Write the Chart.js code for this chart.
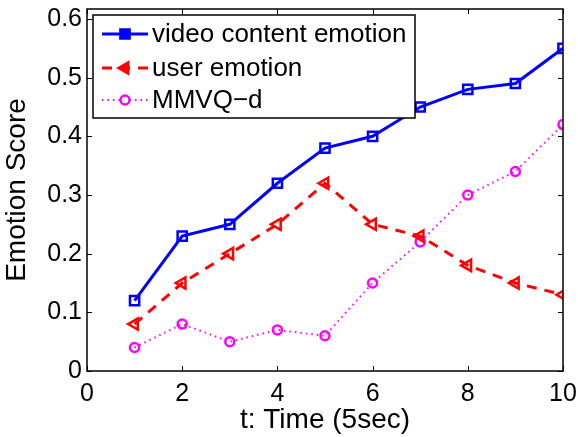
<!DOCTYPE html>
<html>
<head>
<meta charset="utf-8">
<script src="https://cdn.jsdelivr.net/npm/chart.js@4.4.1/dist/chart.umd.min.js"></script>
<style>
  html, body { margin: 0; padding: 0; background: #fff; }
  #wrap { width: 578px; height: 437px; }
</style>
</head>
<body>
<div id="wrap"><canvas id="lineChart" width="578" height="437"></canvas></div>
<script>
// data
const timeSteps = [1, 2, 3, 4, 5, 6, 7, 8, 9, 10];
const videoEmotion = [0.12, 0.23, 0.25, 0.32, 0.38, 0.40, 0.45, 0.48, 0.49, 0.55];
const userEmotion = [0.08, 0.15, 0.20, 0.25, 0.32, 0.25, 0.23, 0.18, 0.15, 0.13];
const mmvqD = [0.04, 0.08, 0.05, 0.07, 0.06, 0.15, 0.22, 0.30, 0.34, 0.42];
const seriesNames = ["video content emotion", "user emotion", "MMVQ\u2212d"];
const xTicks = [0, 2, 4, 6, 8, 10];
const yTicks = [0, 0.1, 0.2, 0.3, 0.4, 0.5, 0.6];

const FONT = "'Liberation Sans', Arial, sans-serif";
const toPoints = (ys) => timeSteps.map((t, i) => ({ x: t, y: ys[i] }));

// box around the axes + inward ticks on all four sides (matlab look)
const framePlugin = {
  id: "frame",
  afterDatasetsDraw(chart) {
    const { ctx, chartArea: a, scales: { x, y } } = chart;
    ctx.save();
    ctx.strokeStyle = "#000";
    ctx.lineWidth = 1;
    ctx.beginPath();
    xTicks.forEach(v => {
      const px = Math.round(x.getPixelForValue(v)) + 0.5;
      ctx.moveTo(px, a.bottom); ctx.lineTo(px, a.bottom - 5);
      ctx.moveTo(px, a.top); ctx.lineTo(px, a.top + 5);
    });
    yTicks.forEach(v => {
      const py = Math.round(y.getPixelForValue(v)) + 0.5;
      ctx.moveTo(a.left, py); ctx.lineTo(a.left + 5, py);
      ctx.moveTo(a.right, py); ctx.lineTo(a.right - 5, py);
    });
    ctx.stroke();
    ctx.lineWidth = 1.5;
    ctx.strokeRect(a.left, a.top, a.right - a.left, a.bottom - a.top);
    ctx.restore();
  }
};

// legend drawn inside the plot, top left, with line + marker samples
const boxLegend = {
  id: "boxLegend",
  afterDraw(chart) {
    const { ctx } = chart;
    const bx = 93, by = 15, bw = 322, bh = 103;
    ctx.save();
    ctx.fillStyle = "#fff";
    ctx.fillRect(bx, by, bw, bh);
    ctx.strokeStyle = "#000";
    ctx.lineWidth = 1.5;
    ctx.strokeRect(bx, by, bw, bh);
    const rows = [34, 68, 100];
    chart.data.datasets.forEach((ds, i) => {
      const cy = rows[i];
      ctx.strokeStyle = ds.borderColor;
      ctx.lineWidth = ds.borderWidth;
      ctx.setLineDash(ds.borderDash || []);
      ctx.beginPath();
      ctx.moveTo(102, cy); ctx.lineTo(148, cy);
      ctx.stroke();
      ctx.setLineDash([]);
      ctx.lineWidth = ds.pointBorderWidth;
      // squares/triangles look solid in the legend, the circle stays hollow
      ctx.fillStyle = ds.pointStyle === "circle" ? "#fff" : ds.pointBorderColor;
      ctx.strokeStyle = ds.pointBorderColor;
      Chart.helpers.drawPoint(ctx, {
        pointStyle: ds.pointStyle, rotation: ds.pointRotation || 0,
        radius: ds.pointRadius, borderWidth: ds.pointBorderWidth
      }, 125, cy);
      ctx.fillStyle = "#000";
      ctx.font = "26px " + FONT;
      ctx.textBaseline = "middle";
      ctx.fillText(ds.label, 152, cy + 1);
    });
    ctx.restore();
  }
};

new Chart(document.getElementById("lineChart").getContext("2d"), {
  type: "line",
  data: {
    datasets: [{
      label: seriesNames[0],
      data: toPoints(videoEmotion),
      borderColor: "#0000ff",
      borderWidth: 3,
      pointStyle: "rect",
      pointRadius: 6.5,
      pointBorderWidth: 2.5,
      pointBorderColor: "#0000ff",
      pointBackgroundColor: "rgba(255,255,255,0)",
      tension: 0
    }, {
      label: seriesNames[1],
      data: toPoints(userEmotion),
      borderColor: "#ff0000",
      borderWidth: 3,
      borderDash: [10, 8],
      pointStyle: "triangle",
      pointRotation: -90,
      pointRadius: 6.5,
      pointBorderWidth: 2.5,
      pointBorderColor: "#ff0000",
      pointBackgroundColor: "rgba(255,255,255,0)",
      tension: 0
    }, {
      label: seriesNames[2],
      data: toPoints(mmvqD),
      borderColor: "#ff00ff",
      borderWidth: 2,
      borderDash: [1.5, 4],
      pointStyle: "circle",
      pointRadius: 4.5,
      pointBorderWidth: 2.5,
      pointBorderColor: "#ff00ff",
      pointBackgroundColor: "rgba(255,255,255,0)",
      tension: 0
    }]
  },
  options: {
    responsive: false,
    animation: false,
    layout: { padding: { top: 7, right: 15, left: 0, bottom: 0 } },
    plugins: { legend: { display: false }, tooltip: { enabled: false } },
    scales: {
      x: {
        type: "linear", min: 0, max: 10,
        afterBuildTicks: s => { s.ticks = xTicks.map(v => ({ value: v })); },
        afterFit: s => { s.height = 66; s.paddingRight = 0; s.paddingLeft = 0; },
        grid: { display: false, drawTicks: false },
        border: { display: false },
        ticks: { color: "#000", font: { family: FONT, size: 25 }, padding: 8, maxRotation: 0 },
        title: { display: true, text: "t: Time (5sec)", color: "#000", font: { family: FONT, size: 28 }, padding: { top: -4, bottom: 0 } }
      },
      y: {
        type: "linear", min: 0, max: 0.617,
        afterBuildTicks: s => { s.ticks = yTicks.map(v => ({ value: v })); },
        afterFit: s => { s.width = 87; s.paddingTop = 0; s.paddingBottom = 0; },
        grid: { display: false, drawTicks: false },
        border: { display: false },
        ticks: { color: "#000", font: { family: FONT, size: 25 }, padding: 5, callback: v => String(+v.toFixed(1)) },
        title: { display: true, text: "Emotion Score", color: "#000", font: { family: FONT, size: 28 }, padding: { top: 0, bottom: 0 } }
      }
    }
  },
  plugins: [framePlugin, boxLegend]
});
</script>
</body>
</html>
